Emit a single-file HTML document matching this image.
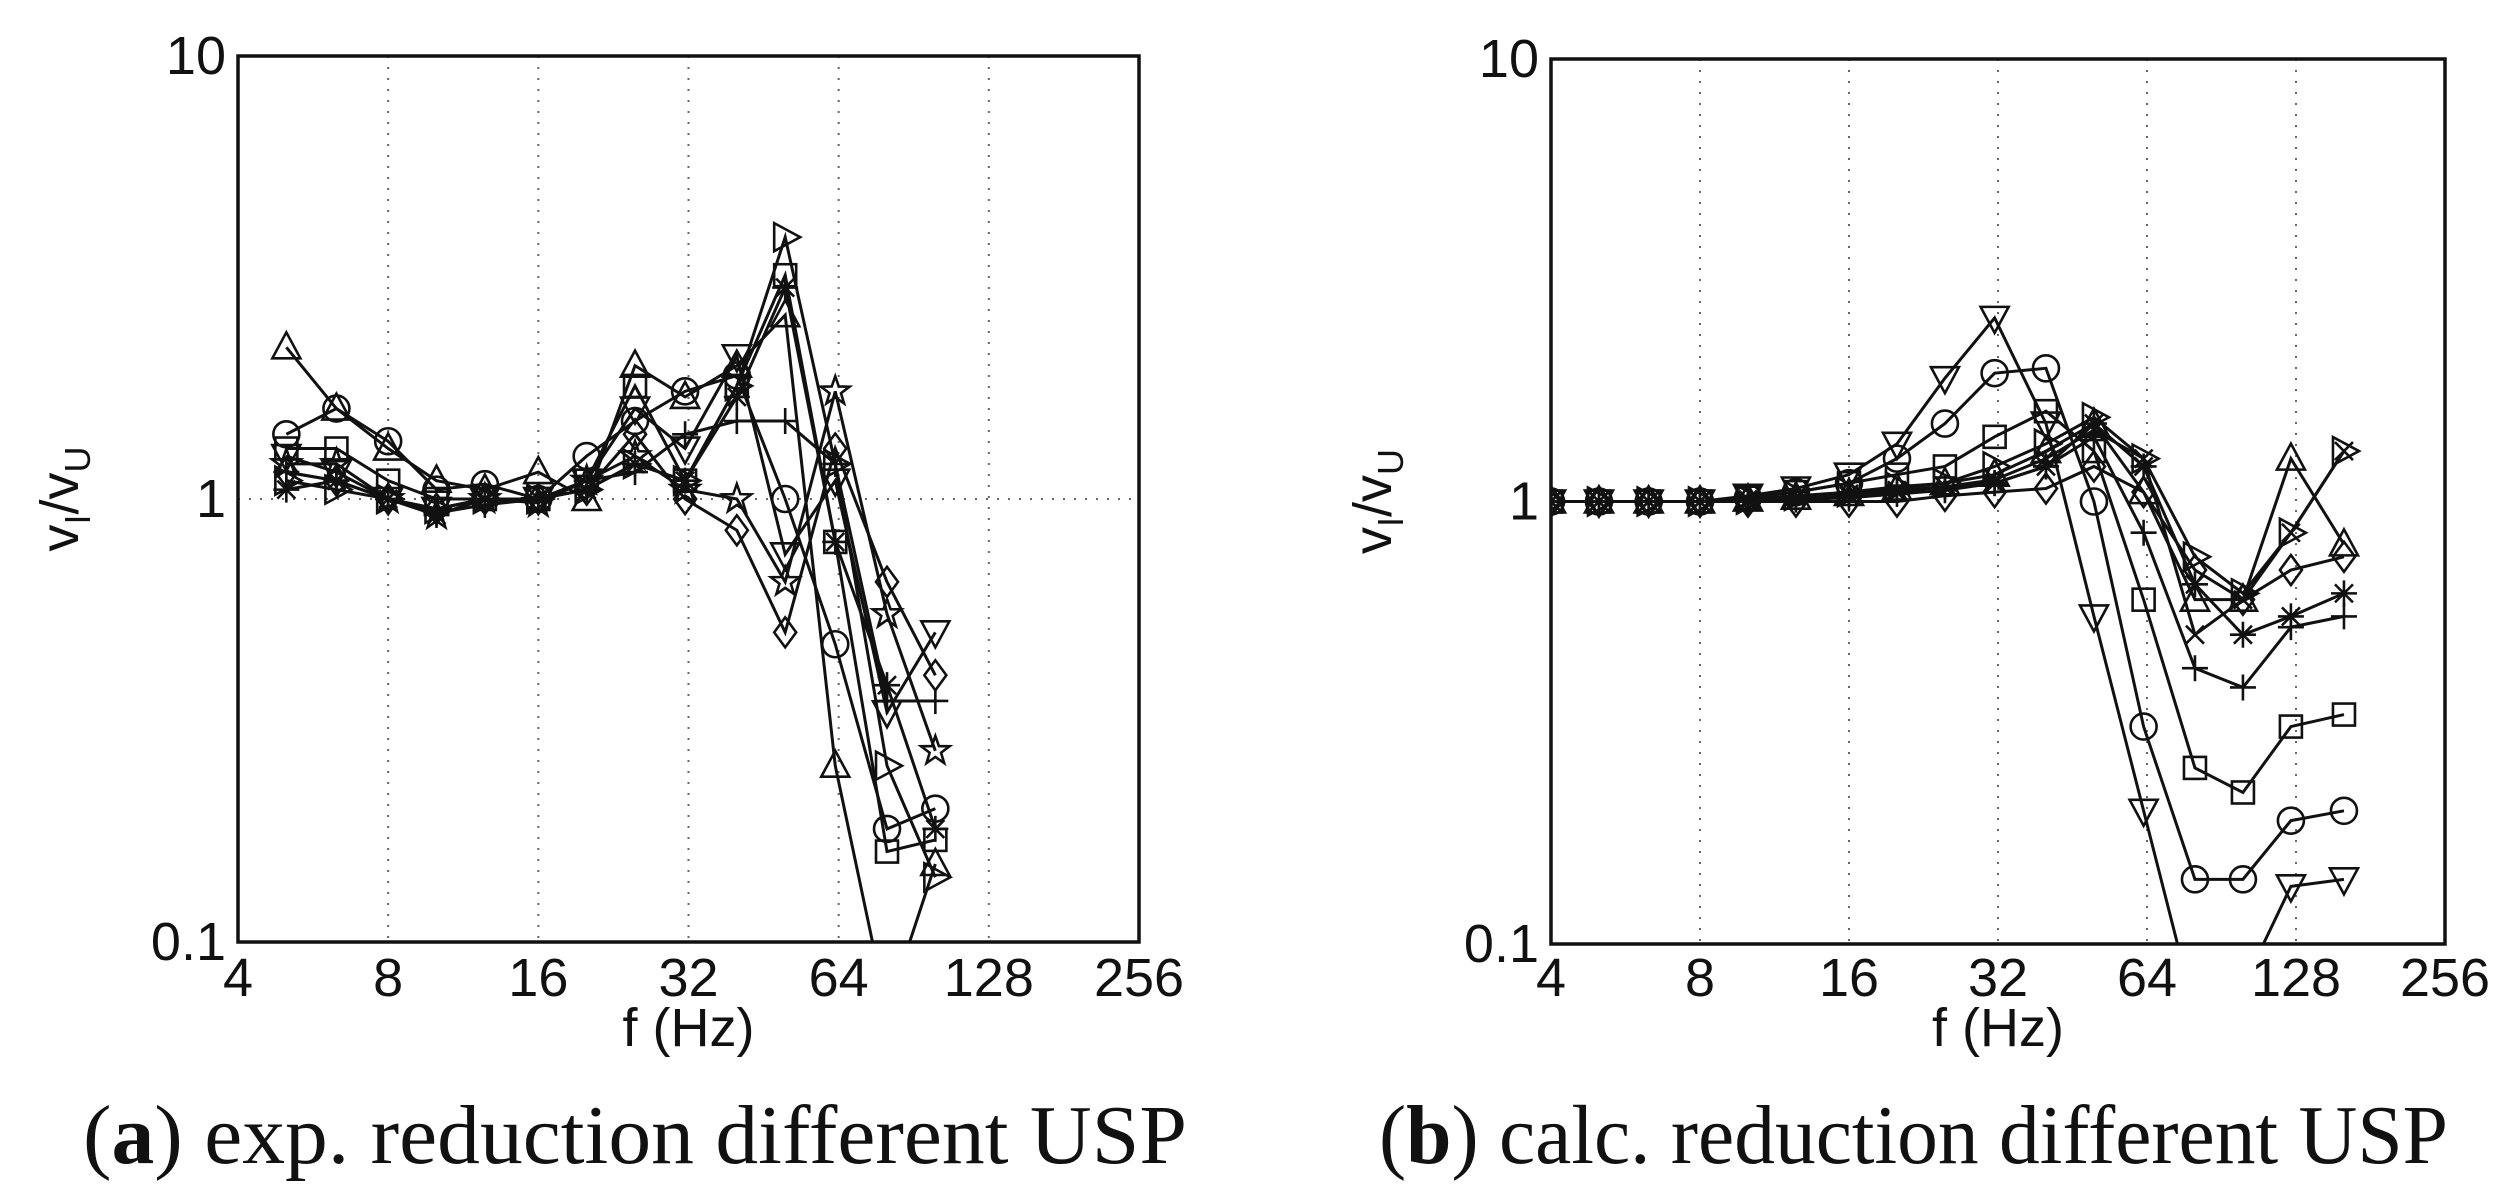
<!DOCTYPE html>
<html><head><meta charset="utf-8"><style>
html,body{margin:0;padding:0;background:#fff;}
svg{display:block;}
.t{font-family:"Liberation Sans",sans-serif;font-size:54px;fill:#111;}
.c{font-family:"Liberation Serif",serif;font-size:84px;fill:#111;}
</style></head><body>
<svg id="s" width="2497" height="1198" xmlns="http://www.w3.org/2000/svg">
<text class="c" x="83" y="1163" textLength="1104" lengthAdjust="spacingAndGlyphs">(<tspan font-weight="bold">a</tspan>) exp. reduction different USP</text>
<text class="c" x="1379" y="1163" textLength="1069" lengthAdjust="spacingAndGlyphs">(<tspan font-weight="bold">b</tspan>) calc. reduction different USP</text>
</svg>
<script>
var S=document.getElementById('s'),NS='http://www.w3.org/2000/svg';
function el(n,a,p){var e=document.createElementNS(NS,n);for(var k in a)e.setAttribute(k,a[k]);(p||S).appendChild(e);return e;}
function txt(x,y,s,anchor,extra){var e=el('text',Object.assign({x:x,y:y,'class':'t','text-anchor':anchor||'middle'},extra||{}));e.textContent=s;return e;}
function plot(P,series,freqs){
 var X=function(f){return P.x0+(P.x1-P.x0)*Math.log2(f/4)/6;};
 var Y=function(v){return P.y1-(P.y1-P.y0)*(Math.log10(v)+1)/2;};
 var g=el('g',{});
 [8,16,32,64,128].forEach(function(f){el('line',{x1:X(f),x2:X(f),y1:P.y0,y2:P.y1,stroke:'#666','stroke-width':2,'stroke-dasharray':'2 9'},g);});
 if(P.hgrid) el('line',{x1:P.x0,x2:P.x1,y1:Y(1),y2:Y(1),stroke:'#666','stroke-width':2,'stroke-dasharray':'2 9'},g);
 var id='c'+P.x0;var cp=el('clipPath',{id:id});el('rect',{x:P.x0,y:P.y0,width:P.x1-P.x0,height:P.y1-P.y0},cp);
 var dg=el('g',{'clip-path':'url(#'+id+')'});
 series.forEach(function(s){
  var pts=[];for(var i=0;i<freqs.length;i++){if(s.v[i]!=null)pts.push([X(freqs[i]),Y(s.v[i])]);}
  el('polyline',{points:pts.map(function(p){return p.join(',')}).join(' '),fill:'none',stroke:'#111','stroke-width':3},dg);
  pts.forEach(function(p){marker(s.m,p[0],p[1],dg);});
 });
 el('rect',{x:P.x0,y:P.y0,width:P.x1-P.x0,height:P.y1-P.y0,fill:'none',stroke:'#111','stroke-width':3.5});
 [4,8,16,32,64,128,256].forEach(function(f){txt(X(f),996,String(f));});
 txt(P.x0-12,P.y0+18,P.top,'end');txt(P.x0-12,Y(1)+18,'1','end');txt(P.x0-12,P.y1+18,'0.1','end');
 txt((P.x0+P.x1)/2,1046,'f (Hz)');
 var yl=el('text',{x:0,y:0,'class':'t','text-anchor':'middle',transform:'translate('+(P.x0-160)+','+Y(1)+') rotate(-90)'});
 yl.innerHTML='v<tspan font-size="36" dy="12">I</tspan><tspan dy="-12">/v</tspan><tspan font-size="36" dy="12">U</tspan>';
}
function marker(m,x,y,g){
 var r=13,a={fill:'none',stroke:'#111','stroke-width':2.6};
 if(m=='o')el('circle',Object.assign({cx:x,cy:y,r:r},a),g);
 else if(m=='s')el('rect',Object.assign({x:x-11,y:y-11,width:22,height:22},a),g);
 else if(m=='^')el('polygon',Object.assign({points:[x,y-r-2,x-r-1,y+r-2,x+r+1,y+r-2].join(' ')},a),g);
 else if(m=='v')el('polygon',Object.assign({points:[x,y+r+2,x-r-1,y-r+2,x+r+1,y-r+2].join(' ')},a),g);
 else if(m=='>')el('polygon',Object.assign({points:[x+r+2,y,x-r+2,y-r-1,x-r+2,y+r+1].join(' ')},a),g);
 else if(m=='d')el('polygon',Object.assign({points:[x,y-r-2,x+r-2,y,x,y+r+2,x-r+2,y].join(' ')},a),g);
 else if(m=='p'){var p=[];for(var i=0;i<10;i++){var rr=i%2?6:r+2,an=-Math.PI/2+i*Math.PI/5;p.push(x+rr*Math.cos(an),y+rr*Math.sin(an));}el('polygon',Object.assign({points:p.join(' ')},a),g);}
 else if(m=='+'){el('path',Object.assign({d:'M'+(x-r)+' '+y+'H'+(x+r)+'M'+x+' '+(y-r)+'V'+(y+r)},a),g);}
 else if(m=='*'){el('path',Object.assign({d:'M'+(x-r)+' '+y+'H'+(x+r)+'M'+x+' '+(y-r)+'V'+(y+r)+'M'+(x-9)+' '+(y-9)+'L'+(x+9)+' '+(y+9)+'M'+(x-9)+' '+(y+9)+'L'+(x+9)+' '+(y-9)},a),g);}
 else if(m=='x'){el('path',Object.assign({d:'M'+(x-9)+' '+(y-9)+'L'+(x+9)+' '+(y+9)+'M'+(x-9)+' '+(y+9)+'L'+(x+9)+' '+(y-9)},a),g);}
}
var fL=[5,6.3,8,10,12.5,16,20,25,31.5,40,50,63,80,100];
plot({x0:238,x1:1139,y0:56,y1:942,top:'10',hgrid:true},[
 {m:'^',v:[2.2,1.6,1.3,1.1,1.05,1.15,1.0,2.0,1.7,2.0,2.6,0.25,0.07,0.15]},
 {m:'o',v:[1.4,1.6,1.35,1.05,1.08,1.0,1.25,1.5,1.75,1.9,1.0,0.47,0.18,0.2]},
 {m:'s',v:[1.3,1.3,1.1,1.0,1.0,1.0,1.1,1.8,1.1,1.8,3.2,0.8,0.16,0.17]},
 {m:'>',v:[1.1,1.05,1.0,0.95,1.0,1.0,1.05,1.2,1.1,1.8,3.9,1.2,0.25,0.14]},
 {m:'v',v:[1.25,1.15,1.0,0.95,1.0,1.0,1.1,1.6,1.3,2.1,0.75,1.1,0.33,0.5]},
 {m:'d',v:[1.15,1.1,1.0,0.95,1.0,1.0,1.05,1.4,1.0,0.85,0.5,1.3,0.65,0.4]},
 {m:'p',v:[1.2,1.2,1.0,0.92,1.0,0.98,1.1,1.25,1.05,1.0,0.65,1.75,0.55,0.27]},
 {m:'+',v:[1.15,1.1,1.0,0.93,0.97,1.0,1.1,1.15,1.4,1.5,1.5,1.2,0.35,0.35]},
 {m:'*',v:[1.05,1.1,1.0,0.92,1.0,1.0,1.05,1.2,1.1,1.7,3.0,0.8,0.38,0.18]}
],fL);
var fR=[4,5,6.3,8,10,12.5,16,20,25,31.5,40,50,63,80,100,125,160];
function R(tail){return [1,1,1,1].concat(tail);}
plot({x0:1551,x1:2445,y0:59,y1:944,top:'10',hgrid:false},[
 {m:'v',v:R([1.03,1.07,1.15,1.35,1.9,2.6,1.5,0.55,0.2,0.07,0.08,0.135,0.14])},
 {m:'o',v:R([1.02,1.05,1.1,1.25,1.5,1.95,2.0,1.0,0.31,0.14,0.14,0.19,0.2])},
 {m:'s',v:R([1.02,1.05,1.1,1.15,1.2,1.4,1.6,1.3,0.6,0.25,0.22,0.31,0.33])},
 {m:'>',v:R([1.01,1.03,1.05,1.08,1.1,1.2,1.35,1.55,1.25,0.75,0.62,0.85,1.3])},
 {m:'^',v:R([1.01,1.02,1.04,1.07,1.1,1.15,1.3,1.5,1.05,0.6,0.6,1.25,0.8])},
 {m:'d',v:R([1.0,1.0,1.0,1.0,1.03,1.05,1.07,1.2,1.05,0.7,0.6,0.7,0.75])},
 {m:'*',v:R([1.01,1.02,1.04,1.06,1.08,1.1,1.2,1.5,1.2,0.65,0.5,0.55,0.62])},
 {m:'+',v:R([1.0,1.01,1.02,1.04,1.06,1.1,1.2,1.4,0.85,0.42,0.38,0.52,0.55])},
 {m:'x',v:R([1.0,1.02,1.03,1.05,1.08,1.12,1.25,1.45,1.25,0.5,0.6,0.85,1.3])}
],fR);
</script>
</body></html>
